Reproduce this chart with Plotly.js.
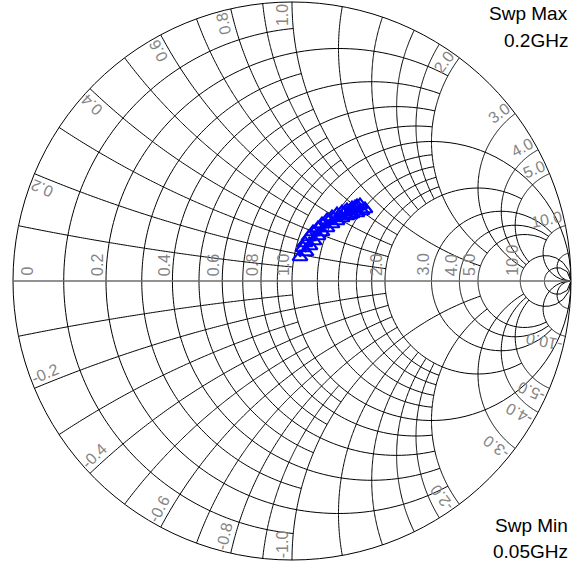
<!DOCTYPE html>
<html><head><meta charset="utf-8">
<script src="https://cdn.plot.ly/plotly-3.0.1.min.js"></script>
<style>html,body{margin:0;padding:0;background:#fff}#chart{width:582px;height:567px}</style>
</head><body><div id="chart"></div>
<script>
const gammaRe = [0.0287,0.0394,0.0502,0.0466,0.0645,0.0609,0.0789,0.0753,0.0932,0.0932,0.1075,0.1075,0.1254,0.1254,0.1434,0.1434,0.1613,0.1613,0.1792,0.1792,0.1971,0.1971,0.2151,0.2151,0.2330,0.2330,0.2509,0.2258,0.2616,0.2079,0.2437,0.1900];
const gammaIm = [0.0860,0.1183,0.1039,0.1362,0.1254,0.1577,0.1434,0.1756,0.1613,0.1900,0.1756,0.2043,0.1900,0.2186,0.2043,0.2294,0.2151,0.2401,0.2258,0.2473,0.2330,0.2545,0.2401,0.2616,0.2437,0.2688,0.2509,0.2652,0.2581,0.2366,0.2724,0.2473];

// Grid circles and the extent to which each is drawn
const realGrid      = [0.1,0.2,0.3,0.4,0.5,0.6,0.7,0.8,0.9,1,1.2,1.4,1.6,1.8,2,3,4,5,10,20];
const realGridLimit = [1,2,1,2,1,2,1,2,1,Infinity,2,2,2,2,5,10,10,10,Infinity,Infinity];
const imagGrid      = [0.1,0.2,0.3,0.4,0.5,0.6,0.7,0.8,0.9,1,1.2,1.4,1.6,1.8,2,3,4,5,10,20];
const imagGridLimit = [1,2,1,2,1,2,1,2,1,5,2,2,2,2,5,10,10,10,Infinity,Infinity];

// Tick labels
const realLabels = ['0','0.2','0.4','0.6','0.8','1.0','2.0','3.0','4.0','5.0','10.0'];
const imagLabels = ['0.2','0.4','0.6','0.8','1.0','2.0','3.0','4.0','5.0','10.0'];
const sweepText = ['Swp Max','0.2GHz','Swp Min','0.05GHz'];

// convert Gamma to normalized impedance for the smith subplot
const zRe = [], zIm = [];
for (let i = 0; i < gammaRe.length; i++) {
  const a = gammaRe[i], b = gammaIm[i];
  const nr = 1 + a, ni = b, dr = 1 - a, di = -b;
  const den = dr*dr + di*di;
  zRe.push((nr*dr + ni*di)/den);
  zIm.push((ni*dr - nr*di)/den);
}

// grid traces
const gR = [], gI = [];
const N = 160;
realGrid.forEach((r, k) => {
  const lim = realGridLimit[k];
  const pm = lim === Infinity ? Math.PI/2 - 1e-6 : Math.atan(lim);
  for (let i = 0; i <= N; i++) {
    const phi = -pm + 2*pm*i/N;
    gR.push(r); gI.push(Math.tan(phi));
  }
  gR.push(null); gI.push(null);
});
imagGrid.forEach((x, k) => {
  const lim = imagGridLimit[k];
  const pm = lim === Infinity ? Math.PI/2 - 1e-6 : Math.atan(lim);
  [1,-1].forEach(s => {
    for (let i = 0; i <= N; i++) {
      const phi = pm*i/N;
      gR.push(Math.tan(phi)); gI.push(s*x);
    }
    gR.push(null); gI.push(null);
  });
});

const W = 582, H = 567;
const M = {l:13, r:11, t:2, b:7};
const PW = W - M.l - M.r, PH = H - M.t - M.b;
const R = PW/2, CX = M.l + R, CY = M.t + PH/2;
function px2paper(px, py){ return {x:(px - M.l)/PW, y:1 - (py - M.t)/PH}; }
function textLen(s, fs){
  let w = 0;
  for (const c of s) w += (c === '.') ? 0.278 : (c === '-' ? 0.333 : 0.556);
  return w*fs;
}
const FS = 16;
const labelFont = {family:'Liberation Sans, Arial, sans-serif', size:FS, color:'#858585'};
const ann = [];
realLabels.forEach(t => {
  const r = parseFloat(t);
  const lx = CX + R*(r-1)/(r+1);
  const L = textLen(t, FS);
  const cx = Math.max(lx - 8, CX - R + 15);
  const cy = CY - 5 - L/2;
  const p = px2paper(cx, cy);
  ann.push({xref:'paper', yref:'paper', x:p.x, y:p.y, text:t, textangle:-90,
    xanchor:'center', yanchor:'middle', showarrow:false, font:labelFont});
});
imagLabels.forEach(t => {
  const v = parseFloat(t);
  const th = 2*Math.atan(1/v);
  [1,-1].forEach(s => {
    const txt = s > 0 ? t : '-' + t;
    const L = textLen(txt, FS);
    const tp = s*th;
    const d = R - 2 - L/2;
    const mx = d*Math.cos(tp) + 10*s*(-Math.sin(tp));
    const my = d*Math.sin(tp) + 10*s*(Math.cos(tp));
    const p = px2paper(CX + mx, CY - my);
    const deg = th*180/Math.PI;
    const ang = s > 0 ? -deg : deg - 180;
    ann.push({xref:'paper', yref:'paper', x:p.x, y:p.y, text:txt, textangle:ang,
      xanchor:'center', yanchor:'middle', showarrow:false, font:labelFont});
  });
});
const swFont = {family:'Liberation Sans, Arial, sans-serif', size:19, color:'#000'};
const swY = [13, 41, 525, 551];
sweepText.forEach((t, i) => {
  const p = px2paper(570, swY[i]);
  ann.push({xref:'paper', yref:'paper', x:p.x, y:p.y, text:t, xanchor:'right', yanchor:'middle',
    showarrow:false, font:swFont});
});

const traces = [
  {type:'scattersmith', real:gR, imag:gI, mode:'lines', connectgaps:false,
   line:{color:'#000', width:1}, hoverinfo:'skip', showlegend:false},
  {type:'scattersmith', real:zRe, imag:zIm, mode:'lines+markers',
   line:{color:'#0000ff', width:2},
   marker:{symbol:'triangle-up-open', size:13, color:'#0000ff', line:{width:2.2, color:'#0000ff'}},
   showlegend:false}
];
const layout = {
  width:W, height:H, margin:M, paper_bgcolor:'#fff', showlegend:false,
  smith:{
    domain:{x:[0,1], y:[0,1]}, bgcolor:'#fff',
    realaxis:{showgrid:false, showticklabels:false, ticks:'', showline:true, linecolor:'#6e6e6e', linewidth:1.5},
    imaginaryaxis:{showgrid:false, showticklabels:false, ticks:'', showline:true, linecolor:'#000', linewidth:1}
  },
  annotations:ann
};
Plotly.newPlot('chart', traces, layout, {displayModeBar:false, staticPlot:true});
</script></body></html>
